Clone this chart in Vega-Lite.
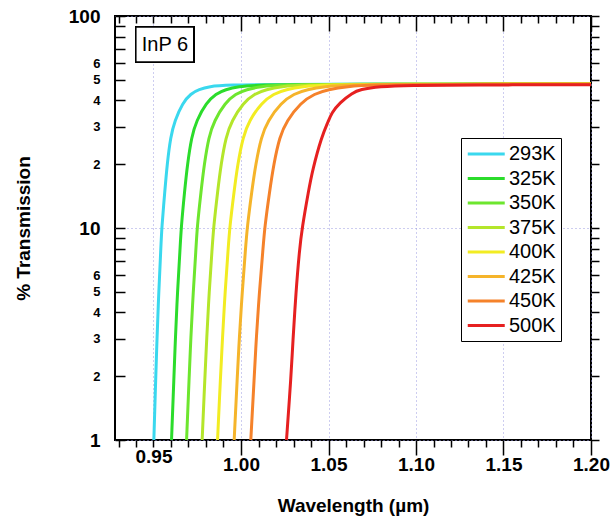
{
  "$schema": "https://vega.github.io/schema/vega-lite/v6.json",
  "width": 476,
  "height": 424,
  "autosize": "none",
  "padding": {"left": 115, "top": 16, "right": 25, "bottom": 84},
  "background": "white",
  "config": {
    "view": {"stroke": "black", "strokeWidth": 2},
    "font": "Liberation Sans",
    "axis": {"domain": false, "ticks": true, "tickColor": "black", "tickWidth": 1.5, "tickOpacity": 1, "labelColor": "black", "titleColor": "black", "labelFont": "Liberation Sans", "titleFont": "Liberation Sans", "labelOverlap": false, "labelBound": false, "labelFlush": false, "gridColor": "#9a9ae0", "gridDash": [1, 3], "gridWidth": 1}
  },
  "data": {"values": [
    {"T":"293K","wl":0.9502,"t":1},{"T":"293K","wl":0.9513,"t":2},{"T":"293K","wl":0.9520,"t":3},{"T":"293K","wl":0.9530,"t":5},{"T":"293K","wl":0.9542,"t":8},{"T":"293K","wl":0.9547,"t":10},{"T":"293K","wl":0.9565,"t":15},{"T":"293K","wl":0.9578,"t":20},{"T":"293K","wl":0.9598,"t":27},{"T":"293K","wl":0.9621,"t":32},{"T":"293K","wl":0.9667,"t":39},{"T":"293K","wl":0.9713,"t":43},{"T":"293K","wl":0.9759,"t":45},{"T":"293K","wl":0.9822,"t":46.5},{"T":"293K","wl":0.9902,"t":47.3},{"T":"293K","wl":1.03,"t":47.65},{"T":"293K","wl":1.20,"t":47.8},
    {"T":"325K","wl":0.9603,"t":1},{"T":"325K","wl":0.9617,"t":2},{"T":"325K","wl":0.9625,"t":3},{"T":"325K","wl":0.9637,"t":5},{"T":"325K","wl":0.9652,"t":8},{"T":"325K","wl":0.9658,"t":10},{"T":"325K","wl":0.9678,"t":15},{"T":"325K","wl":0.9694,"t":20},{"T":"325K","wl":0.9718,"t":27},{"T":"325K","wl":0.9745,"t":32},{"T":"325K","wl":0.9802,"t":39},{"T":"325K","wl":0.9857,"t":43},{"T":"325K","wl":0.9911,"t":45},{"T":"325K","wl":0.9987,"t":46.5},{"T":"325K","wl":1.0083,"t":47.3},{"T":"325K","wl":1.05,"t":47.65},{"T":"325K","wl":1.20,"t":47.8},
    {"T":"350K","wl":0.9689,"t":1},{"T":"350K","wl":0.9704,"t":2},{"T":"350K","wl":0.9713,"t":3},{"T":"350K","wl":0.9727,"t":5},{"T":"350K","wl":0.9743,"t":8},{"T":"350K","wl":0.9749,"t":10},{"T":"350K","wl":0.9772,"t":15},{"T":"350K","wl":0.9790,"t":20},{"T":"350K","wl":0.9816,"t":27},{"T":"350K","wl":0.9847,"t":32},{"T":"350K","wl":0.9909,"t":39},{"T":"350K","wl":0.9970,"t":43},{"T":"350K","wl":1.0031,"t":45},{"T":"350K","wl":1.0114,"t":46.5},{"T":"350K","wl":1.0221,"t":47.3},{"T":"350K","wl":1.06,"t":47.65},{"T":"350K","wl":1.20,"t":47.8},
    {"T":"375K","wl":0.9778,"t":1},{"T":"375K","wl":0.9794,"t":2},{"T":"375K","wl":0.9804,"t":3},{"T":"375K","wl":0.9818,"t":5},{"T":"375K","wl":0.9835,"t":8},{"T":"375K","wl":0.9843,"t":10},{"T":"375K","wl":0.9867,"t":15},{"T":"375K","wl":0.9886,"t":20},{"T":"375K","wl":0.9914,"t":27},{"T":"375K","wl":0.9947,"t":32},{"T":"375K","wl":1.0013,"t":39},{"T":"375K","wl":1.0078,"t":43},{"T":"375K","wl":1.0143,"t":45},{"T":"375K","wl":1.0232,"t":46.5},{"T":"375K","wl":1.0346,"t":47.3},{"T":"375K","wl":1.075,"t":47.65},{"T":"375K","wl":1.20,"t":47.8},
    {"T":"400K","wl":0.9866,"t":1},{"T":"400K","wl":0.9883,"t":2},{"T":"400K","wl":0.9894,"t":3},{"T":"400K","wl":0.9909,"t":5},{"T":"400K","wl":0.9927,"t":8},{"T":"400K","wl":0.9935,"t":10},{"T":"400K","wl":0.9961,"t":15},{"T":"400K","wl":0.9981,"t":20},{"T":"400K","wl":1.0012,"t":27},{"T":"400K","wl":1.0046,"t":32},{"T":"400K","wl":1.0118,"t":39},{"T":"400K","wl":1.0187,"t":43},{"T":"400K","wl":1.0257,"t":45},{"T":"400K","wl":1.0352,"t":46.5},{"T":"400K","wl":1.0474,"t":47.3},{"T":"400K","wl":1.09,"t":47.65},{"T":"400K","wl":1.20,"t":47.8},
    {"T":"425K","wl":0.9961,"t":1},{"T":"425K","wl":0.9979,"t":2},{"T":"425K","wl":0.9990,"t":3},{"T":"425K","wl":1.0007,"t":5},{"T":"425K","wl":1.0026,"t":8},{"T":"425K","wl":1.0035,"t":10},{"T":"425K","wl":1.0062,"t":15},{"T":"425K","wl":1.0084,"t":20},{"T":"425K","wl":1.0116,"t":27},{"T":"425K","wl":1.0153,"t":32},{"T":"425K","wl":1.0229,"t":39},{"T":"425K","wl":1.0303,"t":43},{"T":"425K","wl":1.0377,"t":45},{"T":"425K","wl":1.0479,"t":46.5},{"T":"425K","wl":1.0609,"t":47.3},{"T":"425K","wl":1.10,"t":47.6},{"T":"425K","wl":1.20,"t":47.75},
    {"T":"450K","wl":1.0056,"t":1},{"T":"450K","wl":1.0076,"t":2},{"T":"450K","wl":1.0087,"t":3},{"T":"450K","wl":1.0105,"t":5},{"T":"450K","wl":1.0126,"t":8},{"T":"450K","wl":1.0135,"t":10},{"T":"450K","wl":1.0164,"t":15},{"T":"450K","wl":1.0187,"t":20},{"T":"450K","wl":1.0221,"t":27},{"T":"450K","wl":1.0261,"t":32},{"T":"450K","wl":1.0341,"t":39},{"T":"450K","wl":1.0420,"t":43},{"T":"450K","wl":1.0498,"t":45},{"T":"450K","wl":1.0606,"t":46.5},{"T":"450K","wl":1.0744,"t":47.3},{"T":"450K","wl":1.11,"t":47.55},{"T":"450K","wl":1.20,"t":47.7},
    {"T":"500K","wl":1.0260,"t":1},{"T":"500K","wl":1.0286,"t":2},{"T":"500K","wl":1.0296,"t":2.87},{"T":"500K","wl":1.0314,"t":5},{"T":"500K","wl":1.0334,"t":7.87},{"T":"500K","wl":1.0349,"t":10},{"T":"500K","wl":1.0386,"t":15},{"T":"500K","wl":1.0409,"t":18.8},{"T":"500K","wl":1.0460,"t":26.9},{"T":"500K","wl":1.0500,"t":32},{"T":"500K","wl":1.0517,"t":34.8},{"T":"500K","wl":1.0563,"t":39},{"T":"500K","wl":1.0637,"t":43.4},{"T":"500K","wl":1.0680,"t":45},{"T":"500K","wl":1.0790,"t":46.5},{"T":"500K","wl":1.0960,"t":47.1},{"T":"500K","wl":1.13,"t":47.3},{"T":"500K","wl":1.20,"t":47.4}
  ]},
  "resolve": {"axis": {"x": "independent", "y": "independent"}},
  "layer": [
    {
      "mark": {"type": "line", "strokeWidth": 3, "interpolate": "basis", "clip": true},
      "encoding": {
        "x": {"field": "wl", "type": "quantitative", "scale": {"domain": [0.928, 1.2], "nice": false, "zero": false},
          "axis": {"orient": "bottom", "title": "Wavelength (µm)", "titleFontSize": 19, "titleFontWeight": "bold", "titlePadding": 22,
            "values": [0.93,0.94,0.95,0.96,0.97,0.98,0.99,1,1.01,1.02,1.03,1.04,1.05,1.06,1.07,1.08,1.09,1.1,1.11,1.12,1.13,1.14,1.15,1.16,1.17,1.18,1.19,1.2],
            "labelExpr": "indexof([0.95,1,1.05,1.1,1.15,1.2], datum.value) >= 0 ? format(datum.value, '.2f') : ''",
            "labelFontSize": 19, "labelFontWeight": "bold",
            "tickSize": {"condition": {"test": "indexof([1,1.05,1.1,1.15,1.2], datum.value) >= 0", "value": 15}, "value": 7},
            "labelPadding": 0,
            "grid": true,
            "gridOpacity": {"condition": {"test": "indexof([0.95,1,1.05,1.1,1.15,1.2], datum.value) >= 0", "value": 1}, "value": 0}
          }},
        "y": {"field": "t", "type": "quantitative", "scale": {"type": "log", "domain": [1, 100], "nice": false},
          "axis": {"orient": "left", "title": "% Transmission", "titleFontSize": 19, "titleFontWeight": "bold", "titlePadding": 35,
            "values": [1,2,3,4,5,6,7,8,9,10,20,30,40,50,60,70,80,90,100],
            "labelExpr": "(datum.value==1||datum.value==10||datum.value==100) ? ''+datum.value : (datum.value<=6 ? ''+datum.value : ((datum.value>=20 && datum.value<=60) ? ''+(datum.value/10) : ''))",
            "labelFontWeight": "bold",
            "labelFontSize": {"condition": {"test": "datum.value==1||datum.value==10||datum.value==100", "value": 19}, "value": 13},
            "tickSize": -10,
            "labelPadding": 25,
            "grid": true,
            "gridOpacity": {"condition": {"test": "datum.value==1||datum.value==10||datum.value==100", "value": 1}, "value": 0}
          }},
        "color": {"field": "T", "type": "nominal",
          "scale": {"domain": ["293K","325K","350K","375K","400K","425K","450K","500K"], "range": ["#3ad8ee","#2bdc2b","#6de62e","#b4e62a","#f2ec22","#f5b42a","#f5822a","#e62020"]},
          "legend": {"orient": "none", "legendX": 346, "legendY": 122, "title": null, "symbolType": "M-1,0H3", "symbolSize": 342, "symbolStrokeWidth": 3, "labelFontSize": 20, "labelFont": "Liberation Sans", "labelColor": "black", "labelOffset": 21, "rowPadding": 3.5, "padding": 5, "strokeColor": "black", "fillColor": "white"}
        }
      }
    },
    {
      "mark": {"type": "point", "opacity": 0},
      "encoding": {
        "x": {"field": "wl", "type": "quantitative",
          "axis": {"orient": "top", "title": null, "labels": false, "grid": false,
            "values": [0.93,0.94,0.95,0.96,0.97,0.98,0.99,1,1.01,1.02,1.03,1.04,1.05,1.06,1.07,1.08,1.09,1.1,1.11,1.12,1.13,1.14,1.15,1.16,1.17,1.18,1.19,1.2],
            "tickSize": {"condition": {"test": "indexof([1,1.05,1.1,1.15,1.2], datum.value) >= 0", "value": -15}, "value": -7}}},
        "y": {"field": "t", "type": "quantitative",
          "axis": {"orient": "right", "title": null, "labels": false, "grid": false,
            "values": [1,2,3,4,5,6,7,8,9,10,20,30,40,50,60,70,80,90,100],
            "tickSize": 8}}
      }
    },
    {
      "mark": {"type": "rect", "fill": "white", "stroke": "black", "strokeWidth": 1.5},
      "encoding": {
        "x": {"datum": 0.9399, "type": "quantitative", "axis": null},
        "x2": {"datum": 0.9730},
        "y": {"datum": 88.7, "type": "quantitative", "axis": null},
        "y2": {"datum": 60.7}
      }
    },
    {
      "data": {"values": [{"label": "InP 6"}]},
      "mark": {"type": "text", "fontSize": 20, "font": "Liberation Sans", "color": "black", "align": "center", "baseline": "middle"},
      "encoding": {
        "x": {"datum": 0.9565, "type": "quantitative", "axis": null},
        "y": {"datum": 73, "type": "quantitative", "axis": null},
        "text": {"field": "label"}
      }
    }
  ]
}
